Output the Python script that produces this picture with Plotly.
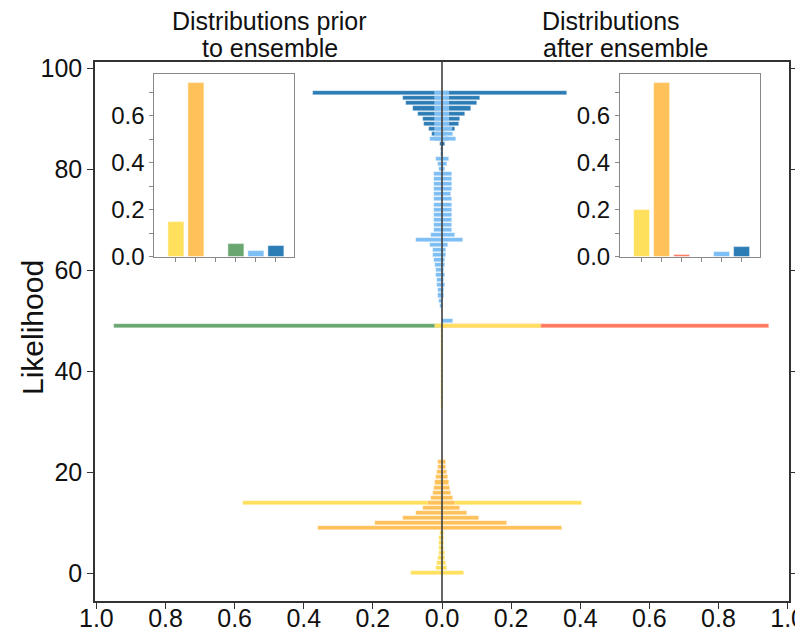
import plotly.graph_objects as go

# ---------------- data ----------------
# likelihood levels and histogram fractions (prior = left side, after = right side)
dark_levels = [95, 94, 93, 92, 91, 90, 89, 88, 87, 86, 85, 84, 83]
dark_prior = [0.373, 0.113, 0.103, 0.085, 0.069, 0.055, 0.052, 0.039, 0.029, 0.022, 0.007, 0.004, 0.003]
dark_after = [0.361, 0.110, 0.100, 0.083, 0.066, 0.053, 0.050, 0.037, 0.012, 0.021, 0.010, 0.003, 0.002]

light_levels = [95, 94, 93, 92, 91, 90, 89, 88, 87, 86,
                82, 81, 80, 79, 78, 77, 76, 75, 74, 73, 72, 71, 70, 69, 68, 67, 66,
                65, 64, 63, 62, 61, 60, 59, 58, 57, 56, 55, 54, 53, 50]
light_prior = [0.019, 0.019, 0.019, 0.019, 0.019, 0.019, 0.019, 0.020, 0.020, 0.036,
               0.017, 0.013, 0.008, 0.024, 0.024, 0.024, 0.023, 0.022, 0.024, 0.024, 0.024, 0.024, 0.024, 0.024, 0.024, 0.031, 0.075,
               0.036, 0.027, 0.026, 0.022, 0.021, 0.018, 0.018, 0.015, 0.014, 0.013, 0.011, 0.008, 0.006, 0.000]
light_after = [0.019, 0.019, 0.019, 0.019, 0.019, 0.019, 0.019, 0.030, 0.032, 0.041,
               0.021, 0.014, 0.010, 0.030, 0.030, 0.030, 0.028, 0.027, 0.030, 0.030, 0.030, 0.030, 0.030, 0.030, 0.030, 0.039, 0.060,
               0.017, 0.012, 0.011, 0.008, 0.010, 0.007, 0.010, 0.007, 0.008, 0.006, 0.005, 0.003, 0.002, 0.031]

green_levels = [49]
green_prior = [0.950]
green_after = [0.0]

red_levels = [49]
red_prior = [0.0]
red_after = [0.946]

yellow_levels = [49, 48, 47, 46, 45, 44, 43, 42, 41, 40, 39, 38, 37, 36, 35, 34, 33,
                 14, 13, 8, 7, 6, 5, 4, 3, 2, 1, 0]
yellow_prior = [0.019] + [0.004] * 16 + [0.576, 0.0, 0.005, 0.008, 0.008, 0.009, 0.010, 0.012, 0.014, 0.017, 0.089]
yellow_after = [0.286] + [0.004] * 16 + [0.406, 0.038, 0.005, 0.005, 0.007, 0.007, 0.008, 0.010, 0.012, 0.014, 0.064]

orange_levels = [22, 21, 20, 19, 18, 17, 16, 15, 14, 13, 12, 11, 10, 9]
orange_prior = [0.012, 0.012, 0.014, 0.016, 0.020, 0.024, 0.027, 0.032, 0.041, 0.054, 0.074, 0.113, 0.195, 0.358]
orange_after = [0.012, 0.013, 0.014, 0.016, 0.020, 0.024, 0.026, 0.032, 0.039, 0.051, 0.072, 0.108, 0.188, 0.347]

# inset distributions (category order: yellow, orange, red, green, light blue, dark blue)
inset_categories = [0, 1, 2, 3, 4, 5]
inset_prior = [0.148, 0.741, 0.0, 0.055, 0.023, 0.044]
inset_after = [0.200, 0.741, 0.007, 0.0, 0.019, 0.043]

x_tick_vals = [-1.0, -0.8, -0.6, -0.4, -0.2, 0.0, 0.2, 0.4, 0.6, 0.8, 1.0]
x_tick_text = ["1.0", "0.8", "0.6", "0.4", "0.2", "0.0", "0.2", "0.4", "0.6", "0.8", "1.0"]
y_tick_vals = [0, 20, 40, 60, 80, 100]
inset_y_vals = [0.0, 0.1, 0.2, 0.3, 0.4, 0.5, 0.6, 0.7]
inset_y_text = ["0.0", "", "0.2", "", "0.4", "", "0.6", ""]

# ---------------- style ----------------
C_YELLOW = "rgb(255,224,92)"
C_ORANGE = "rgb(255,193,90)"
C_RED = "rgb(255,122,92)"
C_GREEN = "rgb(106,166,112)"
C_LBLUE = "rgb(125,190,245)"
C_DBLUE = "rgb(44,124,182)"
inset_colors = [C_YELLOW, C_ORANGE, C_RED, C_GREEN, C_LBLUE, C_DBLUE]

FONT = "Liberation Sans, Arial, sans-serif"
TICK_SIZE = 25
INSET_TICK_SIZE = 24
BAR_H = 0.8
EDGE = dict(color="rgba(255,255,255,0.45)", width=0.6)

# the page body adds an 8px margin, so the figure is drawn 8px smaller and offset
OFF = 8
FIG_W, FIG_H = 803 - OFF, 631 - OFF
# plot area in screenshot pixels
L, R, T, B = 95, 789, 62, 601
W_PA, H_PA = R - L, B - T

def px_x(px):
    return (px - L) / W_PA

def px_y(py):
    return (B - py) / H_PA

fig = go.Figure()

series = [
    (green_levels, green_prior, green_after, C_GREEN),
    (red_levels, red_prior, red_after, C_RED),
    (yellow_levels, yellow_prior, yellow_after, C_YELLOW),
    (orange_levels, orange_prior, orange_after, C_ORANGE),
    (dark_levels, dark_prior, dark_after, C_DBLUE),
    (light_levels, light_prior, light_after, C_LBLUE),
]
for levels, prior, after, col in series:
    fig.add_trace(go.Bar(y=levels, x=[-v for v in prior], orientation="h", width=BAR_H,
                         marker=dict(color=col, line=EDGE), showlegend=False,
                         xaxis="x", yaxis="y"))
    fig.add_trace(go.Bar(y=levels, x=after, orientation="h", width=BAR_H,
                         marker=dict(color=col, line=EDGE), showlegend=False,
                         xaxis="x", yaxis="y"))

# insets
fig.add_trace(go.Bar(x=inset_categories, y=inset_prior, width=0.8,
                     marker=dict(color=inset_colors, line=dict(color="rgba(255,255,255,0.6)", width=0.8)),
                     showlegend=False, xaxis="x2", yaxis="y2"))
fig.add_trace(go.Bar(x=inset_categories, y=inset_after, width=0.8,
                     marker=dict(color=inset_colors, line=dict(color="rgba(255,255,255,0.6)", width=0.8)),
                     showlegend=False, xaxis="x3", yaxis="y3"))

inset_y_dom = [px_y(256.7), px_y(74)]

inset_x_common = dict(range=[-1.08, 5.92], showgrid=False, zeroline=False, showticklabels=False,
                      ticks="outside", ticklen=4, tickcolor="#888", tickvals=inset_categories,
                      showline=True, linecolor="#888", linewidth=1, mirror=True, automargin=False)
inset_y_common = dict(range=[0, 0.779], showgrid=False, zeroline=False,
                      tickvals=inset_y_vals, ticktext=inset_y_text,
                      ticks="outside", ticklen=4, tickcolor="#888",
                      showline=True, linecolor="#888", linewidth=1, mirror=True, automargin=False,
                      tickfont=dict(size=INSET_TICK_SIZE, color="#111", family=FONT))

title_font = dict(size=25, family=FONT, color="#111")

fig.update_layout(
    width=FIG_W, height=FIG_H,
    margin=dict(l=L - OFF, r=803 - R, t=T - OFF, b=631 - B, autoexpand=False),
    paper_bgcolor="white", plot_bgcolor="white",
    barmode="overlay", bargap=0,
    font=dict(family=FONT, color="#111"),
    xaxis=dict(range=[-1.004, 1.004], tickvals=x_tick_vals, ticktext=x_tick_text,
               showgrid=False, zeroline=False, ticks="outside", ticklen=6, tickcolor="#333",
               showline=True, linecolor="#333", linewidth=1.5, mirror=True, automargin=False,
               ticklabelstandoff=-12, ticklabeloverflow="allow",
               tickfont=dict(size=TICK_SIZE, family=FONT, color="#111")),
    yaxis=dict(range=[-5.45, 101.2], tickvals=y_tick_vals,
               showgrid=False, zeroline=False, ticks="outside", ticklen=6, tickcolor="#333",
               showline=True, linecolor="#333", linewidth=1.5, mirror="ticks", automargin=False,
               tickfont=dict(size=TICK_SIZE, family=FONT, color="#111")),
    xaxis2=dict(domain=[px_x(154.3), px_x(294.3)], anchor="y2", **inset_x_common),
    yaxis2=dict(domain=inset_y_dom, anchor="x2", **inset_y_common),
    xaxis3=dict(domain=[px_x(620), px_x(760)], anchor="y3", **inset_x_common),
    yaxis3=dict(domain=inset_y_dom, anchor="x3", **inset_y_common),
    shapes=[dict(type="line", xref="x", yref="y domain", x0=0, x1=0, y0=0, y1=1,
                 line=dict(color="#333", width=1.5), layer="above")],
    annotations=[
        dict(text="Distributions prior", xref="paper", yref="paper", x=px_x(269), y=px_y(21),
             xanchor="center", yanchor="middle", showarrow=False, font=title_font),
        dict(text="to ensemble", xref="paper", yref="paper", x=px_x(270), y=px_y(48),
             xanchor="center", yanchor="middle", showarrow=False, font=title_font),
        dict(text="Distributions", xref="paper", yref="paper", x=px_x(611), y=px_y(21),
             xanchor="center", yanchor="middle", showarrow=False, font=title_font),
        dict(text="after ensemble", xref="paper", yref="paper", x=px_x(625), y=px_y(48),
             xanchor="center", yanchor="middle", showarrow=False, font=title_font),
        dict(text="Likelihood", xref="paper", yref="paper", x=px_x(32), y=px_y(328),
             xanchor="center", yanchor="middle", textangle=-90, showarrow=False,
             font=dict(size=30, family=FONT, color="#111")),
    ],
)

fig.write_html("out.html")
